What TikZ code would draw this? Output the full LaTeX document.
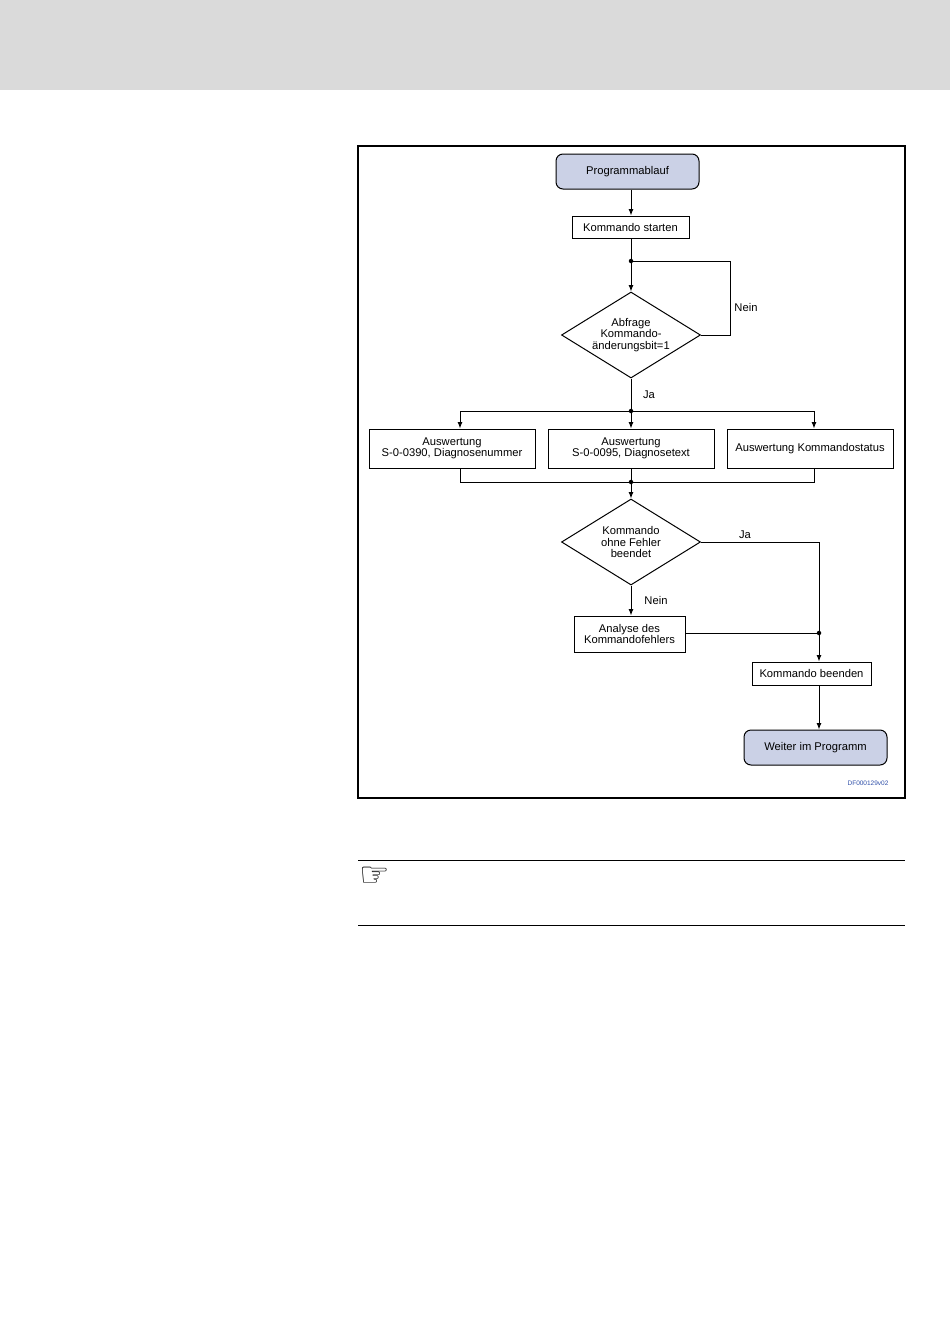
\documentclass[tikz,border=0pt]{standalone}
\usepackage{fontspec}
\setmainfont{Liberation Sans}
\newfontfamily\symfont{DejaVu Sans}
\usetikzlibrary{shapes.geometric,arrows.meta}
\definecolor{hdrgray}{HTML}{DADADA}
\definecolor{termfill}{HTML}{CBD1E6}
\definecolor{idblue}{HTML}{2F4FA8}
\begin{document}
\begin{tikzpicture}[x=1pt,y=-1pt,
  font=\fontsize{11.2}{11.3}\selectfont,
  line width=1pt,
  >={Latex[length=6.5pt,width=5pt]},
  terminal/.style={draw,rounded corners=7pt,fill=termfill,minimum width=143pt,minimum height=35pt,inner sep=0pt,align=center},
  procbox/.style={draw,inner sep=0pt,align=center},
  decision/.style={draw,diamond,aspect=1.62,inner sep=0pt,minimum width=139pt,minimum height=86pt,align=center},
  jdot/.style={circle,fill,inner sep=0pt,minimum size=4.5pt},
  lbl/.style={inner sep=1pt}]
\useasboundingbox (0,0) rectangle (950,1344);
\fill[hdrgray] (0,0) rectangle (950,90);
\draw[line width=1.8pt] (358,146) rectangle (905,798);

\node[terminal] (start) at (627.5,171.5) {Programmablauf};
\node[procbox,minimum width=117pt,minimum height=22pt] (kstart) at (630.5,227) {Kommando starten};
\coordinate (j1) at (631,261);
\node[jdot] at (j1) {};
\node[decision] (d1) at (631,335) {Abfrage\\Kommando-\\änderungsbit=1};
\coordinate (loopr) at (730,261);
\node[lbl] (nein1) at (746,307) {Nein};
\node[lbl] (ja1) at (649,395) {Ja};
\coordinate (j2) at (631,411);
\node[jdot] at (j2) {};
\node[procbox,minimum width=166pt,minimum height=39pt] (ba) at (452,448.5) {Auswertung\\S-0-0390, Diagnosenummer};
\node[procbox,minimum width=166pt,minimum height=39pt] (bb) at (631,448.5) {Auswertung\\S-0-0095, Diagnosetext};
\node[procbox,minimum width=166pt,minimum height=39pt] (bc) at (810,448.5) {Auswertung Kommandostatus};
\coordinate (ta) at (460,411);
\coordinate (tc) at (814,411);
\coordinate (j3) at (631,482);
\node[jdot] at (j3) {};
\coordinate (ua) at (460,482);
\coordinate (uc) at (814,482);
\node[decision] (d2) at (631,542) {Kommando\\ohne Fehler\\beendet};
\node[lbl] (ja2) at (745,535) {Ja};
\node[lbl] (nein2) at (656,600) {Nein};
\node[procbox,minimum width=111pt,minimum height=36pt] (ana) at (629.5,634) {Analyse des\\Kommandofehlers};
\coordinate (j4) at (819,633);
\node[jdot] at (j4) {};
\coordinate (jaturn) at (819,542);
\node[procbox,minimum width=119pt,minimum height=23pt] (kend) at (811.5,673.5) {Kommando beenden};
\node[terminal] (weiter) at (815.5,747.5) {Weiter im Programm};
\node[text=idblue,font=\fontsize{6.5}{7}\selectfont] (id) at (868,783) {DF000129v02};

\draw[->] (start.south -| j1) -- (kstart.north -| j1);
\draw (kstart.south -| j1) -- (j1);
\draw[->] (j1) -- (d1.north);
\draw (d1.east) -| (loopr) -- (j1);
\draw (d1.south) -- (j2);
\draw (ta) -- (tc);
\draw[->] (ta) -- (ta |- ba.north);
\draw[->] (j2) -- (bb.north);
\draw[->] (tc) -- (tc |- bc.north);
\draw (ua |- ba.south) -- (ua) -- (uc) -- (uc |- bc.south);
\draw (bb.south) -- (j3);
\draw[->] (j3) -- (d2.north);
\draw (d2.east) -- (jaturn) -- (j4);
\draw[->] (d2.south) -- (ana.north -| d2.south);
\draw (ana.east |- j4) -- (j4);
\draw[->] (j4) -- (j4 |- kend.north);
\draw[->] (kend.south -| j4) -- (weiter.north -| j4);

\draw[line width=0.8pt] (358,860) -- (905,860);
\draw[line width=0.8pt] (358,925) -- (905,925);
\node[font=\symfont\bfseries\fontsize{34}{34}\selectfont,inner sep=0pt] (hand) at (375,877) {☞};
\end{tikzpicture}
\end{document}
